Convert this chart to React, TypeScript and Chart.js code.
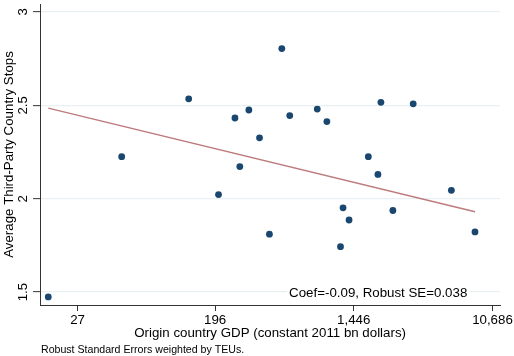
import React, { useEffect, useRef } from "react";
import { Chart, registerables } from "chart.js";

Chart.register(...registerables);

// Origin-country GDP (constant 2011 bn dollars) and average third-party stops
const gdp = [17.7, 51, 134, 206, 261, 280, 319, 372, 429, 513, 575, 855, 982, 1195, 1240, 1352, 1785, 2050, 2140, 2543, 3409, 5910, 8307];
const stops = [1.474, 2.225, 2.535, 2.022, 2.432, 2.172, 2.475, 2.326, 1.81, 2.804, 2.445, 2.48, 2.413, 1.743, 1.951, 1.886, 2.225, 2.13, 2.516, 1.937, 2.508, 2.045, 1.822];

// Linear fit on log GDP, evaluated at the ends of the data range
const fitX = [17.7, 8307];
const fitY = [2.485, 1.93];

const xTicks = [27, 196, 1446, 10686];
const yTicks = [1.5, 2, 2.5, 3];
const yTickLabels = ["1.5", "2", "2.5", "3"];

const xTitle = "Origin country GDP (constant 2011 bn dollars)";
const yTitle = "Average Third-Party Country Stops";
const noteText = "Robust Standard Errors weighted by TEUs.";
const coefText = "Coef=-0.09, Robust SE=0.038";

const FONT = "'Liberation Sans', Arial, Helvetica, sans-serif";
const FS = 13.3;
const AXIS = "#333333";
const GRID = "#e9f0f1";

const overlayPlugin = {
  id: "overlayText",
  afterDraw(chart: any) {
    const { ctx, chartArea, scales } = chart;
    const y = scales.y;
    ctx.save();
    ctx.fillStyle = "#000";
    ctx.font = `${FS}px ${FONT}`;
    ctx.textAlign = "center";
    ctx.textBaseline = "alphabetic";
    // rotated y tick labels
    yTicks.forEach((v, i) => {
      const py = y.getPixelForValue(v);
      ctx.save();
      ctx.translate(chartArea.left - 13.3, py);
      ctx.rotate(-Math.PI / 2);
      ctx.fillText(yTickLabels[i], 0, 0);
      ctx.restore();
    });
    // coefficient note inside plot region
    const cx = chartArea.right - 122;
    const cy = chartArea.bottom - 8.3;
    const w = ctx.measureText(coefText).width;
    ctx.fillStyle = "#ffffff";
    ctx.fillRect(cx - w / 2 - 2, cy - 11, w + 4, 15);
    ctx.fillStyle = "#000";
    ctx.fillText(coefText, cx, cy);
    // footnote
    ctx.font = `10.6px ${FONT}`;
    ctx.textAlign = "left";
    ctx.fillText(noteText, 41, 353);
    ctx.restore();
  },
};

export default function App() {
  const ref = useRef<HTMLCanvasElement | null>(null);

  useEffect(() => {
    if (!ref.current) return;
    const chart = new Chart(ref.current, {
      type: "scatter",
      data: {
        datasets: [
          {
            type: "scatter",
            data: gdp.map((g, i) => ({ x: g, y: stops[i] })),
            backgroundColor: "#1a476f",
            borderWidth: 0,
            pointRadius: 3.4,
            order: 2,
          },
          {
            type: "line",
            data: fitX.map((g, i) => ({ x: g, y: fitY[i] })),
            borderColor: "#bd7b7e",
            borderWidth: 1.5,
            pointRadius: 0,
            fill: false,
            order: 1,
          } as any,
        ],
      },
      options: {
        responsive: false,
        animation: false,
        events: [],
        layout: { padding: { top: 1, right: 12, left: 0, bottom: 0 } },
        plugins: { legend: { display: false }, tooltip: { enabled: false } },
        scales: {
          x: {
            type: "logarithmic",
            min: 15.71,
            max: 11946,
            bounds: "data",
            afterBuildTicks: (s: any) => {
              s.ticks = xTicks.map((v) => ({ value: v }));
            },
            afterFit: (s: any) => {
              s.height = 51;
            },
            ticks: {
              autoSkip: false,
              maxRotation: 0,
              minRotation: 0,
              padding: 1,
              color: "#000",
              font: { family: FONT, size: FS },
              callback: (v: any) => Number(v).toLocaleString("en-US"),
            },
            grid: {
              drawOnChartArea: false,
              drawTicks: true,
              tickLength: 6,
              tickColor: AXIS,
              tickWidth: 1,
            },
            border: { display: true, color: AXIS, width: 1 },
            title: {
              display: true,
              text: xTitle,
              color: "#000",
              font: { family: FONT, size: FS },
              padding: { top: 0, bottom: 14.5 },
            },
          },
          y: {
            type: "linear",
            min: 1.431,
            max: 3.0424,
            bounds: "data",
            afterBuildTicks: (s: any) => {
              s.ticks = yTicks.map((v) => ({ value: v }));
            },
            afterFit: (s: any) => {
              s.width = 40;
            },
            ticks: { display: false },
            grid: {
              color: GRID,
              lineWidth: 1.3,
              drawTicks: true,
              tickLength: 7,
              tickColor: AXIS,
              tickWidth: 1,
            },
            border: { display: true, color: AXIS, width: 1 },
            title: {
              display: true,
              text: yTitle,
              color: "#000",
              font: { family: FONT, size: FS },
              padding: { top: 1, bottom: 0 },
            },
          },
        },
      },
      plugins: [overlayPlugin],
    });
    return () => chart.destroy();
  }, []);

  return (
    <div style={{ position: "fixed", left: 0, top: 0, width: 514, height: 356, background: "#fff" }}>
      <canvas ref={ref} width={514} height={356} style={{ display: "block" }} />
    </div>
  );
}
